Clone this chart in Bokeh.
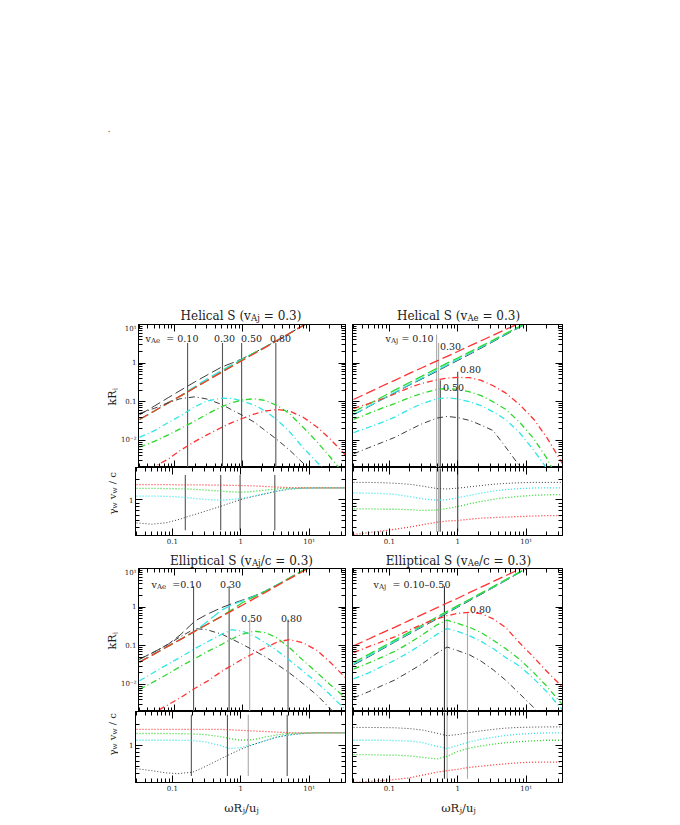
import math
from bokeh.plotting import figure
from bokeh.layouts import column, row
from bokeh.models import LogAxis, FixedTicker, Label, Range1d
from bokeh.embed import file_html
from bokeh.resources import INLINE

FONT = "DejaVu Serif"
TXT = "#222222"

# ---------------- axes ----------------
X_RANGE = (0.029, 34.0)
K_RANGE = (0.002, 10.0)
G_RANGE = (0.3, 3.0)
x_major = [0.1, 1, 10]
x_major_labels = ["0.1", "1", "10¹"]
x_minor = [0.03, 0.04, 0.05, 0.06, 0.07, 0.08, 0.09, 0.2, 0.3, 0.4, 0.5, 0.6, 0.7, 0.8, 0.9,
           2, 3, 4, 5, 6, 7, 8, 9, 20, 30]
k_major = [0.01, 0.1, 1, 10]
k_major_labels = ["10⁻²", "0.1", "1", "10¹"]
k_minor = [0.002, 0.003, 0.004, 0.005, 0.006, 0.007, 0.008, 0.009,
           0.02, 0.03, 0.04, 0.05, 0.06, 0.07, 0.08, 0.09,
           0.2, 0.3, 0.4, 0.5, 0.6, 0.7, 0.8, 0.9, 2, 3, 4, 5, 6, 7, 8, 9]
g_major = [1]
g_major_labels = ["1"]
g_minor = [0.3, 0.4, 0.5, 0.6, 0.7, 0.8, 0.9, 2, 3]

# ---------------- common abscissa  (omega R_j / u_j) ----------------
w = [0.03, 0.05, 0.08, 0.12, 0.2, 0.3, 0.5, 0.7, 1.0, 1.5, 2.2, 3.3, 5, 8, 13, 20, 34]

# ===== Helical S, v_Aj = 0.3 (colours: v_Ae = 0.1 k, 0.3 c, 0.5 g, 0.8 r) =====
ha_re_k = [0.046, 0.078, 0.128, 0.195, 0.33, 0.49, 0.8, 1.0, 1.3, 1.85, 2.62, 3.9, 5.85, 9.4, 15.2, 23.4, 39.8]
ha_re_c = [0.035, 0.058, 0.094, 0.14, 0.25, 0.39, 0.65, 0.9, 1.27, 1.85, 2.62, 3.9, 5.85, 9.4, 15.2, 23.4, 39.8]
ha_re_g = [0.035, 0.058, 0.094, 0.14, 0.234, 0.35, 0.6, 0.84, 1.22, 1.82, 2.62, 3.9, 5.85, 9.4, 15.2, 23.4, 39.8]
ha_re_r = [0.035, 0.058, 0.094, 0.14, 0.234, 0.35, 0.585, 0.82, 1.17, 1.75, 2.57, 3.86, 5.85, 9.4, 15.2, 23.4, 39.8]
ha_im_k = [0.05, 0.068, 0.095, 0.12, 0.135, 0.118, 0.085, 0.062, 0.045, 0.03, 0.018, 0.0105, 0.0057, 0.0026, 0.0011, 0.0005, 0.0002]
ha_im_c = [0.012, 0.018, 0.029, 0.043, 0.075, 0.105, 0.125, 0.122, 0.105, 0.083, 0.058, 0.034, 0.017, 0.0065, 0.0027, 0.0012, 0.0004]
ha_im_g = [0.0067, 0.0095, 0.014, 0.02, 0.032, 0.048, 0.075, 0.095, 0.112, 0.12, 0.108, 0.08, 0.05, 0.022, 0.009, 0.0038, 0.0012]
ha_im_r = [0.0011, 0.0021, 0.0033, 0.0055, 0.0095, 0.014, 0.022, 0.029, 0.037, 0.048, 0.058, 0.063, 0.058, 0.04, 0.022, 0.011, 0.0042]
ha_vw_k = [0.46, 0.44, 0.46, 0.51, 0.6, 0.68, 0.8, 0.9, 1.01, 1.12, 1.22, 1.34, 1.44, 1.49, 1.5, 1.5, 1.5]
ha_vw_c = [1.14, 1.14, 1.13, 1.11, 1.06, 1.02, 0.99, 1.01, 1.05, 1.13, 1.23, 1.34, 1.44, 1.49, 1.5, 1.5, 1.5]
ha_vw_g = [1.48, 1.48, 1.47, 1.46, 1.44, 1.4, 1.35, 1.32, 1.3, 1.33, 1.39, 1.45, 1.49, 1.5, 1.5, 1.5, 1.5]
ha_vw_r = [1.68, 1.68, 1.68, 1.67, 1.67, 1.66, 1.65, 1.64, 1.63, 1.61, 1.58, 1.55, 1.52, 1.51, 1.5, 1.5, 1.5]
ha_vline_x = [0.155, 0.51, 0.98, 3.15]
ha_vline_top = [3.3, 3.3, 3.3, 3.3]
ha_vline_color = ["#555555", "#555555", "#555555", "#555555"]
ha_sub_span = [2.33, 0.357]

# ===== Helical S, v_Ae = 0.3 (colours: v_Aj = 0.1 k, 0.3 c, 0.5 g, 0.8 r) =====
he_re_k = [0.046, 0.075, 0.117, 0.17, 0.275, 0.39, 0.62, 0.85, 1.17, 1.7, 2.45, 3.6, 5.4, 8.4, 13.5, 20.5, 34]
he_re_c = [0.047, 0.077, 0.12, 0.175, 0.285, 0.41, 0.66, 0.9, 1.25, 1.8, 2.6, 3.75, 5.6, 8.7, 13.8, 21, 34]
he_re_g = [0.055, 0.088, 0.135, 0.2, 0.32, 0.46, 0.74, 1.0, 1.36, 1.95, 2.75, 3.95, 5.8, 8.9, 14, 21, 34]
he_re_r = [0.115, 0.175, 0.26, 0.36, 0.55, 0.76, 1.15, 1.5, 2.0, 2.8, 3.8, 5.3, 7.4, 10.8, 16, 23, 35]
he_im_k = [0.0045, 0.0065, 0.009, 0.012, 0.019, 0.027, 0.038, 0.042, 0.039, 0.033, 0.025, 0.018, 0.0068, 0.0022, 0.0007, 0.0003, 0.0001]
he_im_c = [0.016, 0.022, 0.03, 0.04, 0.065, 0.09, 0.12, 0.127, 0.118, 0.1, 0.08, 0.055, 0.035, 0.016, 0.0055, 0.0019, 0.0004]
he_im_g = [0.035, 0.05, 0.07, 0.09, 0.13, 0.165, 0.21, 0.22, 0.21, 0.18, 0.145, 0.1, 0.064, 0.03, 0.011, 0.0035, 0.0006]
he_im_r = [0.067, 0.09, 0.12, 0.16, 0.235, 0.3, 0.37, 0.41, 0.43, 0.42, 0.36, 0.26, 0.17, 0.085, 0.035, 0.012, 0.0025]
he_vw_k = [1.81, 1.81, 1.79, 1.76, 1.7, 1.6, 1.47, 1.45, 1.49, 1.56, 1.63, 1.7, 1.75, 1.79, 1.81, 1.81, 1.81]
he_vw_c = [1.27, 1.26, 1.24, 1.21, 1.12, 1.04, 0.99, 1.01, 1.08, 1.17, 1.26, 1.35, 1.42, 1.47, 1.5, 1.5, 1.5]
he_vw_g = [0.74, 0.74, 0.73, 0.73, 0.72, 0.7, 0.71, 0.75, 0.8, 0.88, 0.95, 1.02, 1.08, 1.13, 1.17, 1.19, 1.2]
he_vw_r = [0.31, 0.33, 0.35, 0.37, 0.4, 0.43, 0.47, 0.49, 0.5, 0.52, 0.54, 0.55, 0.56, 0.57, 0.58, 0.59, 0.59]
he_vline_x = [0.492, 0.526, 0.556, 1.0]
he_vline_top = [5.5, 3.3, 0.36, 0.6]
he_vline_color = ["#aaaaaa", "#aaaaaa", "#444444", "#444444"]
he_sub_span = [2.9, 0.34]

# ===== Elliptical S, v_Aj/c = 0.3 (colours: v_Ae = 0.1 k, 0.3 c, 0.5 g, 0.8 r) =====
ea_re_k = [0.045, 0.07, 0.11, 0.19, 0.44, 0.65, 0.98, 1.22, 1.52, 1.95, 2.6, 3.8, 5.65, 9.0, 14.6, 22.5, 38]
ea_re_c = [0.038, 0.062, 0.098, 0.145, 0.24, 0.42, 0.85, 1.15, 1.45, 1.9, 2.6, 3.8, 5.65, 9.0, 14.6, 22.5, 38]
ea_re_g = [0.038, 0.062, 0.098, 0.145, 0.24, 0.355, 0.59, 0.85, 1.3, 1.85, 2.55, 3.75, 5.65, 9.0, 14.6, 22.5, 38]
ea_re_r = [0.038, 0.062, 0.098, 0.145, 0.24, 0.355, 0.58, 0.8, 1.12, 1.66, 2.4, 3.6, 5.4, 8.5, 13.5, 20.5, 34]
ea_im_k = [0.045, 0.07, 0.11, 0.17, 0.28, 0.26, 0.2, 0.15, 0.11, 0.075, 0.052, 0.033, 0.02, 0.0105, 0.0052, 0.0024, 0.001]
ea_im_c = [0.0125, 0.021, 0.034, 0.05, 0.085, 0.125, 0.2, 0.262, 0.24, 0.18, 0.12, 0.075, 0.043, 0.022, 0.011, 0.0055, 0.0022]
ea_im_g = [0.0075, 0.012, 0.019, 0.029, 0.047, 0.07, 0.11, 0.15, 0.2, 0.24, 0.22, 0.16, 0.09, 0.042, 0.02, 0.01, 0.0045]
ea_im_r = [0.0008, 0.0019, 0.003, 0.0045, 0.008, 0.012, 0.022, 0.031, 0.045, 0.065, 0.09, 0.125, 0.145, 0.12, 0.075, 0.038, 0.015]
ea_vw_k = [0.47, 0.44, 0.41, 0.4, 0.42, 0.5, 0.64, 0.75, 0.88, 1.02, 1.15, 1.3, 1.4, 1.47, 1.5, 1.5, 1.5]
ea_vw_c = [1.18, 1.18, 1.18, 1.18, 1.17, 1.12, 1.0, 0.9, 0.93, 1.03, 1.15, 1.3, 1.4, 1.47, 1.5, 1.5, 1.5]
ea_vw_g = [1.47, 1.47, 1.47, 1.46, 1.45, 1.42, 1.33, 1.25, 1.18, 1.2, 1.3, 1.4, 1.47, 1.5, 1.5, 1.5, 1.5]
ea_vw_r = [1.68, 1.68, 1.68, 1.68, 1.68, 1.68, 1.68, 1.66, 1.63, 1.6, 1.57, 1.54, 1.51, 1.5, 1.5, 1.5, 1.5]
ea_vline_x = [0.19, 0.64, 1.29, 4.78]
ea_vline_top = [3.5, 3.5, 0.48, 0.48]
ea_vline_color = ["#555555", "#555555", "#aaaaaa", "#555555"]
ea_sub_span = [2.7, 0.37]

# ===== Elliptical S, v_Ae/c = 0.3 (colours: v_Aj = 0.1 k, 0.3 c, 0.5 g, 0.8 r) =====
ee_re_k = [0.032, 0.052, 0.083, 0.125, 0.205, 0.305, 0.5, 0.7, 1.0, 1.48, 2.15, 3.2, 4.85, 7.8, 12.7, 19.5, 33]
ee_re_c = [0.034, 0.055, 0.087, 0.13, 0.215, 0.32, 0.53, 0.74, 1.05, 1.55, 2.25, 3.3, 5.0, 8.0, 13, 20, 34]
ee_re_g = [0.037, 0.06, 0.094, 0.14, 0.23, 0.34, 0.56, 0.78, 1.1, 1.6, 2.3, 3.4, 5.1, 8.1, 13, 20, 34]
ee_re_r = [0.1, 0.15, 0.22, 0.3, 0.46, 0.64, 0.97, 1.28, 1.7, 2.4, 3.3, 4.6, 6.5, 9.6, 14.5, 21, 33]
ee_im_k = [0.0045, 0.0065, 0.0095, 0.013, 0.022, 0.034, 0.065, 0.093, 0.075, 0.058, 0.04, 0.024, 0.013, 0.0058, 0.0025, 0.001, 0.0003]
ee_im_c = [0.014, 0.02, 0.03, 0.042, 0.07, 0.11, 0.2, 0.28, 0.235, 0.18, 0.13, 0.085, 0.05, 0.03, 0.014, 0.0065, 0.0022]
ee_im_g = [0.025, 0.036, 0.052, 0.072, 0.12, 0.19, 0.35, 0.46, 0.38, 0.3, 0.22, 0.14, 0.085, 0.045, 0.02, 0.009, 0.003]
ee_im_r = [0.067, 0.095, 0.13, 0.17, 0.26, 0.36, 0.5, 0.6, 0.69, 0.74, 0.68, 0.5, 0.3, 0.12, 0.05, 0.022, 0.0085]
ee_vw_k = [1.79, 1.79, 1.78, 1.77, 1.72, 1.65, 1.48, 1.37, 1.42, 1.52, 1.6, 1.68, 1.75, 1.79, 1.81, 1.82, 1.82]
ee_vw_c = [1.18, 1.18, 1.18, 1.17, 1.15, 1.1, 0.97, 0.9, 1.0, 1.12, 1.22, 1.3, 1.38, 1.44, 1.48, 1.5, 1.5]
ee_vw_g = [0.74, 0.74, 0.73, 0.73, 0.71, 0.68, 0.645, 0.7, 0.82, 0.92, 0.98, 1.04, 1.09, 1.13, 1.16, 1.18, 1.18]
ee_vw_r = [0.3, 0.31, 0.32, 0.33, 0.35, 0.38, 0.42, 0.44, 0.46, 0.49, 0.51, 0.53, 0.55, 0.57, 0.58, 0.58, 0.58]
ee_vline_x = [0.64, 0.70, 1.39]
ee_vline_top = [3.5, 0.48, 0.7]
ee_vline_color = ["#333333", "#aaaaaa", "#aaaaaa"]
ee_sub_span = [2.9, 0.34]

# ---------------- styling ----------------
COLORS = {"k": "#3c3c3c", "c": "#30e6e6", "g": "#2cd82c", "r": "#ff3232"}
DASH = {"re": "10 4", "im": "6 3 1 3", "vw": "1 2"}

CW = {' ': .318, '(': .39, ')': .39, '.': .318, '/': .337, '=': .838, '–': .5,
      'A': .722, 'E': .73, 'H': .872, 'R': .77, 'S': .685,
      'a': .596, 'c': .56, 'e': .592, 'i': .32, 'j': .32, 'k': .62, 'l': .32, 'p': .64,
      't': .402, 'u': .644, 'v': .586, 'w': .856, 'γ': .6, 'ω': .84}
for d in "0123456789":
    CW[d] = .636


def rich(p, x, y, pieces, anchor="left", angle=0.0, color=TXT):
    """Chain text pieces (text, size_px, baseline_shift_px) as Labels, frame-relative screen units."""
    widths = [sum(CW.get(ch, 0.6) for ch in t) * s for t, s, d in pieces]
    off = -sum(widths) / 2 if anchor == "center" else 0.0
    for (t, s, d), wd in zip(pieces, widths):
        lead = len(t) - len(t.lstrip(" "))
        start = off + lead * CW[' '] * s
        txt = t.strip(" ")
        if angle == 0:
            xo, yo = start, d
        else:
            xo, yo = -d, start
        p.add_layout(Label(x=x, y=y, x_units="screen", y_units="screen", text=txt,
                           x_offset=xo, y_offset=yo, angle=angle, text_font=FONT,
                           text_font_size=f"{s}px", text_color=color,
                           text_align="left", text_baseline="alphabetic"))
        off += wd


def set_axis(ax, major, minor, labels, show):
    ax.ticker = FixedTicker(ticks=major, minor_ticks=minor)
    ax.major_tick_in = 7
    ax.major_tick_out = 0
    ax.minor_tick_in = 4
    ax.minor_tick_out = 0
    ax.axis_line_color = "black"
    ax.major_tick_line_color = "black"
    ax.minor_tick_line_color = "black"
    ax.axis_label = None
    ax.major_label_text_font = FONT
    if show:
        ax.major_label_overrides = {float(v): s for v, s in zip(major, labels)}
        ax.major_label_text_font_size = "7px"
        ax.major_label_text_color = TXT
        ax.major_label_standoff = 2
    else:
        ax.major_label_overrides = {float(v): " " for v in major}
        ax.major_label_text_font_size = "1px"
        ax.major_label_text_alpha = 0
        ax.major_label_standoff = 0


def new_fig(width, height, borders, y_rng, ymaj, ymin, ylab, show_x, show_y):
    left, right, top, bottom = borders
    p = figure(width=width, height=height, x_axis_type="log", y_axis_type="log",
               x_range=Range1d(*X_RANGE), y_range=Range1d(*y_rng),
               output_backend="svg", toolbar_location=None, title=None,
               min_border_left=left, min_border_right=right,
               min_border_top=top, min_border_bottom=bottom,
               background_fill_color="white", border_fill_color="white",
               outline_line_color="black")
    p.xgrid.visible = False
    p.ygrid.visible = False
    set_axis(p.xaxis[0], x_major, x_minor, x_major_labels, show_x)
    set_axis(p.yaxis[0], ymaj, ymin, ylab, show_y)
    ax_top = LogAxis()
    set_axis(ax_top, x_major, x_minor, x_major_labels, False)
    p.add_layout(ax_top, "above")
    ax_right = LogAxis()
    set_axis(ax_right, ymaj, ymin, ylab, False)
    p.add_layout(ax_right, "right")
    return p


def strip(width, height):
    """Blank text carrier (its frame is the whole box, so its labels are never clipped)."""
    p = figure(width=width, height=height, x_range=Range1d(0, 1), y_range=Range1d(0, 1),
               x_axis_location=None, y_axis_location=None, output_backend="svg",
               toolbar_location=None, title=None, min_border=0, outline_line_color=None,
               background_fill_color="white", border_fill_color="white")
    p.xgrid.visible = False
    p.ygrid.visible = False
    return p


def draw(p, curves, dash):
    for col, ys in curves:
        p.line(w, ys, line_color=COLORS[col], line_dash=DASH[dash],
               line_width=1.0 if col == "k" else 1.3)


def vlines(p, xs, tops, bottoms, colors):
    p.segment(x0=xs, y0=tops, x1=xs, y1=bottoms, line_color=colors, line_width=1.1)


YS = 118                 # width of the y-label strip
LW, RW = 230, 224        # widths of left / right panel figures
LB, RB = (17, 3), (4, 10)
MAIN_H, SUB_TOP_H, SUB_BOT_H = 143, 70, 71
SUB_TOP_B, SUB_BOT_B = 11, 14


def panel(left_col, data, label_specs, sub_h, sub_bottom):
    (re_k, re_c, re_g, re_r, im_k, im_c, im_g, im_r,
     vw_k, vw_c, vw_g, vw_r, vx, vtop, vcol, vspan) = data
    width = LW if left_col else RW
    lb, rb = LB if left_col else RB
    pm = new_fig(width, MAIN_H, (lb, rb, 0, 0), K_RANGE,
                 k_major, k_minor, k_major_labels, False, left_col)
    vlines(pm, vx, vtop, [K_RANGE[0]] * len(vx), vcol)
    draw(pm, [("k", re_k), ("c", re_c), ("g", re_g), ("r", re_r)], "re")
    draw(pm, [("k", im_k), ("c", im_c), ("g", im_g), ("r", im_r)], "im")
    ps = new_fig(width, sub_h + sub_bottom, (lb, rb, 0, sub_bottom), G_RANGE,
                 g_major, g_minor, g_major_labels, True, left_col)
    vlines(ps, vx, [vspan[0]] * len(vx), [vspan[1]] * len(vx), vcol)
    draw(ps, [("k", vw_k), ("c", vw_c), ("g", vw_g), ("r", vw_r)], "vw")
    for x, y, pieces, anchor in label_specs:
        rich(pm, x, y, pieces, anchor=anchor)
    return pm, ps


ha = (ha_re_k, ha_re_c, ha_re_g, ha_re_r, ha_im_k, ha_im_c, ha_im_g, ha_im_r,
      ha_vw_k, ha_vw_c, ha_vw_g, ha_vw_r, ha_vline_x, ha_vline_top, ha_vline_color, ha_sub_span)
he = (he_re_k, he_re_c, he_re_g, he_re_r, he_im_k, he_im_c, he_im_g, he_im_r,
      he_vw_k, he_vw_c, he_vw_g, he_vw_r, he_vline_x, he_vline_top, he_vline_color, he_sub_span)
ea = (ea_re_k, ea_re_c, ea_re_g, ea_re_r, ea_im_k, ea_im_c, ea_im_g, ea_im_r,
      ea_vw_k, ea_vw_c, ea_vw_g, ea_vw_r, ea_vline_x, ea_vline_top, ea_vline_color, ea_sub_span)
ee = (ee_re_k, ee_re_c, ee_re_g, ee_re_r, ee_im_k, ee_im_c, ee_im_g, ee_im_r,
      ee_vw_k, ee_vw_c, ee_vw_g, ee_vw_r, ee_vline_x, ee_vline_top, ee_vline_color, ee_sub_span)

V, S = 9.5, 7
tl_m, tl_s = panel(True, ha,
                   [(7, 129.5, [("v", V, 0), ("Ae", S, -2.5), ("  =  0.10", V, 0)], "left"),
                    (86, 129.5, [("0.30", V, 0)], "center"),
                    (113, 129.5, [("0.50", V, 0)], "center"),
                    (142, 129.5, [("0.80", V, 0)], "center")],
                   SUB_TOP_H, SUB_TOP_B)
tr_m, tr_s = panel(False, he,
                   [(33, 129.5, [("v", V, 0), ("Aj", S, -2.5), (" = 0.10", V, 0)], "left"),
                    (98, 121.5, [("0.30", V, 0)], "center"),
                    (118, 98, [("0.80", V, 0)], "center"),
                    (101, 80, [("0.50", V, 0)], "center")],
                   SUB_TOP_H, SUB_TOP_B)
bl_m, bl_s = panel(True, ea,
                   [(13, 127.5, [("v", V, 0), ("Ae", S, -2.5), ("  =0.10", V, 0)], "left"),
                    (92, 127.5, [("0.30", V, 0)], "center"),
                    (113, 93.5, [("0.50", V, 0)], "center"),
                    (153, 93.5, [("0.80", V, 0)], "center")],
                   SUB_BOT_H, SUB_BOT_B)
br_m, br_s = panel(False, ee,
                   [(21, 127.5, [("v", V, 0), ("Aj", S, -2.5), ("  =  0.10–0.50", V, 0)], "left"),
                    (128, 102.5, [("0.80", V, 0)], "center")],
                   SUB_BOT_H, SUB_BOT_B)

T, TS = 12, 8.5
FULL = YS + LW + RW
head1 = strip(FULL, 324)
head1.add_layout(Label(x=107, y=193, x_units="screen", y_units="screen", text=".",
                       text_font=FONT, text_font_size="10px", text_color="#555555"))
rich(head1, 240.5, 9, [("Helical S (v", T, 0), ("Aj", TS, -2.5), (" = 0.3)", T, 0)], anchor="center")
rich(head1, 458, 9, [("Helical S (v", T, 0), ("Ae", TS, -2.5), (" = 0.3)", T, 0)], anchor="center")

head2 = strip(FULL, 568 - (324 + MAIN_H + SUB_TOP_H + SUB_TOP_B))
rich(head2, 241, 8, [("Elliptical S (v", T, 0), ("Aj", TS, -2), ("/c = 0.3)", T, 0)], anchor="center")
rich(head2, 458, 8, [("Elliptical S (v", T, 0), ("Ae", TS, -2), ("/c = 0.3)", T, 0)], anchor="center")

KR = [("kR", 11, 0), ("j", 7.5, -2.5)]
GV = [("γ", 10, 0), ("w", 7, -2.5), (" v", 10, 0), ("w", 7, -2.5), (" / c", 10, 0)]
ys1 = strip(YS, MAIN_H)
rich(ys1, 112, 62, KR, angle=math.pi / 2)
ys2 = strip(YS, SUB_TOP_H + SUB_TOP_B)
rich(ys2, 112, 21, GV, angle=math.pi / 2)
ys3 = strip(YS, MAIN_H)
rich(ys3, 112, 62, KR, angle=math.pi / 2)
ys4 = strip(YS, SUB_BOT_H + SUB_BOT_B)
rich(ys4, 112, 27, GV, angle=math.pi / 2)

foot = strip(FULL, 20)
XL = [("ωR", 11.5, 0), ("j", 7.5, -2.5), ("/u", 11.5, 0), ("j", 7.5, -2.5)]
rich(foot, 241, 9, XL, anchor="center")
rich(foot, 458, 9, XL, anchor="center")

layout = column(head1,
                row(ys1, tl_m, tr_m),
                row(ys2, tl_s, tr_s),
                head2,
                row(ys3, bl_m, br_m),
                row(ys4, bl_s, br_s),
                foot)
open("out.html", "w").write(file_html(layout, INLINE))
